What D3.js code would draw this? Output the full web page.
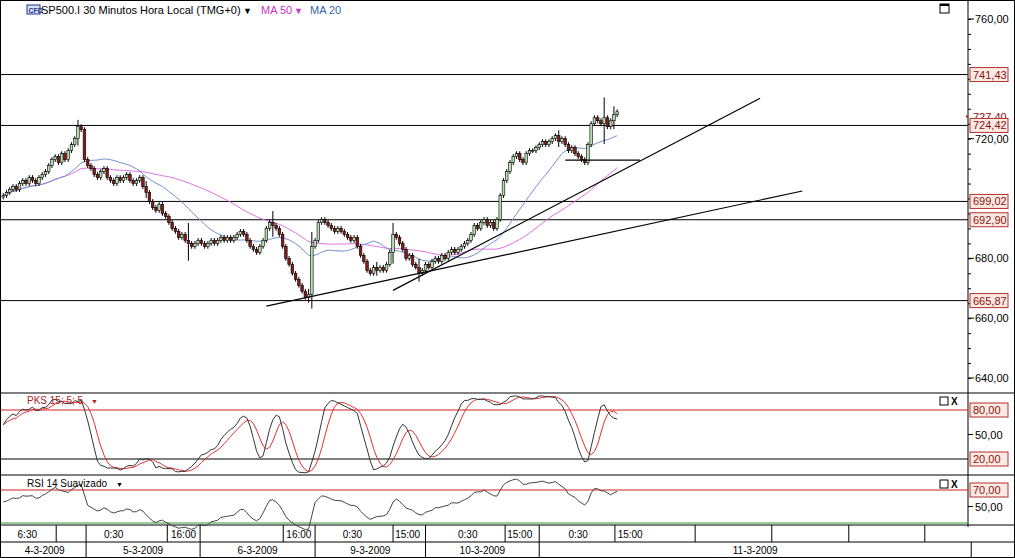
<!DOCTYPE html>
<html><head><meta charset="utf-8">
<script src="https://cdn.jsdelivr.net/npm/d3@7"></script>
<style>body{margin:0;background:#fff}text{font-family:"Liberation Sans",Arial,sans-serif}</style>
</head><body><svg id="c" width="1015" height="558"></svg>
<script>
// 30 min closes, SP500.I CFD
const closes = [
701,702,703,704,703,705,706,705,707,706,
705,707,708,709,711,713,714,712,715,713,
716,718,720,724,723,713,711,710,708,707,
709,710,707,706,705,707,706,707,708,706,
705,706,707,704,702,699,697,696,698,695,
694,692,690,689,687,688,686,685,684,685,
686,685,684,685,686,685,686,687,686,687,
686,687,688,689,688,686,684,683,682,684,
686,690,692,691,690,688,684,680,678,675,
673,671,669,667,668,684,686,692,693,692,
691,690,689,690,689,688,687,686,687,684,
681,679,676,675,677,676,677,676,678,682,
688,687,685,683,680,681,678,677,675,676,
678,677,679,680,679,681,680,682,683,682,
683,684,685,686,688,691,690,692,693,691,
692,690,693,701,706,709,712,714,715,713,
712,715,716,716,717,718,719,718,719,720,
721,719,720,718,716,717,715,714,713,712,
718,725,727,726,725,727,724,726,728,729];
const wicks = {23:1.5, 44:1, 57:5, 83:3, 94:1, 95:4, 115:1, 120:3, 128:2, 171:1, 185:6, 188:2};
const levels = [741.43, 724.42, 699.02, 692.90];
const supportLevel = 665.87;
const lastPrice = 727.40;
const priceTicks = [640, 660, 680, 720, 760];
const trendLines = [[81, 664.0, 246, 702.5], [120, 669.3, 233, 733.5], [173, 712.8, 196, 712.8]];
const hourTicks = [{i:7.4,t:"6:30"},{i:34,t:"0:30"},{i:55.5,t:"16:00"},{i:107.5,t:"0:30"},{i:91,t:"16:00"},{i:143,t:"0:30"},{i:124.5,t:"15:00"},{i:159,t:"15:00"},{i:177,t:"0:30"},{i:193,t:"15:00"}];
const hourDividers = [16.3,25.5,50.5,60.6,86.2,96,120,130,154.5,165,188.3,213,236.6,260.3,283.7];
const dates = [{a:0,b:25.5,t:"4-3-2009"},{a:25.5,b:60.6,t:"5-3-2009"},{a:60.6,b:96,t:"6-3-2009"},{a:96,b:130,t:"9-3-2009"},{a:130,b:165,t:"10-3-2009"},{a:165,b:298,t:"11-3-2009"}];

const bars = closes.map((c, i) => {
  const o = i ? closes[i - 1] : c - 0.5;
  const w = (wicks[i] || 0) + 0.8;
  return {i, o, c, h: Math.max(o, c) + w, l: Math.min(o, c) - w};
});
function sma(n) {
  return closes.map((c, i) => d3.mean(closes.slice(Math.max(0, i - n + 1), i + 1)));
}
const ma20 = sma(20), ma50 = sma(50);
// stochastic 15;5;5
const kRaw = bars.map((b, i) => {
  const s = bars.slice(Math.max(0, i - 14), i + 1);
  const hh = d3.max(s, d => d.h), ll = d3.min(s, d => d.l);
  return hh === ll ? 50 : 100 * (b.c - ll) / (hh - ll);
});
const smooth = (a, n) => a.map((v, i) => d3.mean(a.slice(Math.max(0, i - n + 1), i + 1)));
const pk = smooth(kRaw, 5), pd = smooth(pk, 5);
// RSI 14 (Wilder), smoothed
let ag = 1, al = 0.8;
const rsi = closes.map((c, i) => {
  const d = i ? c - closes[i - 1] : 0;
  ag = (ag * 13 + Math.max(d, 0)) / 14;
  al = (al * 13 + Math.max(-d, 0)) / 14;
  return 100 * ag / (ag + al);
});
const rsiS = smooth(rsi, 2);

const svg = d3.select("#c");
const W = 968;
const x = d3.scaleLinear().domain([-1, 297]).range([0, W]);
const y = d3.scaleLinear().domain([640, 760]).range([378, 19]);
const ys = d3.scaleLinear().domain([20, 80]).range([459, 410]);
const yr = d3.scaleLinear().domain([30, 70]).range([523, 490]);

function tag(val, label, scale) {
  const g = svg.append("g");
  g.append("rect").attr("x", 970).attr("y", scale(val) - 7).attr("width", 38).attr("height", 14)
    .attr("fill", "#fdebe3").attr("stroke", "#b03030");
  g.append("text").attr("x", 973).attr("y", scale(val) + 4).attr("font-size", 11).attr("fill", "#8b1010")
    .text(label);
}
const fmt = v => v.toFixed(2).replace(".", ",");

// main panel
svg.append("g").selectAll("line").data(levels.concat([supportLevel])).join("line")
  .attr("x1", 0).attr("x2", W).attr("y1", d => y(d)).attr("y2", d => y(d)).attr("stroke", "#000");
const line = (arr, sc) => d3.line().x((d, i) => x(i)).y(d => sc(d))(arr);
svg.append("path").attr("d", line(ma50, y)).attr("fill", "none").attr("stroke", "#e070e0");
svg.append("path").attr("d", line(ma20, y)).attr("fill", "none").attr("stroke", "#7090d0");
const cg = svg.append("g").selectAll("g").data(bars).join("g");
cg.append("line").attr("x1", d => x(d.i)).attr("x2", d => x(d.i)).attr("y1", d => y(d.h)).attr("y2", d => y(d.l)).attr("stroke", "#000");
cg.append("rect").attr("x", d => x(d.i) - 1.3).attr("width", 2.6)
  .attr("y", d => y(Math.max(d.o, d.c))).attr("height", d => Math.max(1, Math.abs(y(d.o) - y(d.c))))
  .attr("fill", d => d.c >= d.o ? "#b8e0b0" : "#8b1a1a").attr("stroke", "#000").attr("stroke-width", 0.6);
svg.append("g").selectAll("line").data(trendLines).join("line")
  .attr("x1", d => x(d[0])).attr("y1", d => y(d[1])).attr("x2", d => x(d[2])).attr("y2", d => y(d[3]))
  .attr("stroke", "#000").attr("stroke-width", 1.2);

// right axis
svg.append("line").attr("x1", W).attr("x2", W).attr("y1", 0).attr("y2", 527).attr("stroke", "#000");
const axMain = svg.append("g").attr("transform", `translate(${W},0)`)
  .call(d3.axisRight(y).tickValues(d3.range(640, 765, 5)).tickSize(3).tickFormat(""));
axMain.select(".domain").remove();
svg.append("g").selectAll("text").data(priceTicks).join("text")
  .attr("x", 975).attr("y", d => y(d) + 4).attr("font-size", 11).text(d => fmt(d));
svg.append("g").selectAll("line").data(priceTicks).join("line")
  .attr("x1", W).attr("x2", W + 6).attr("y1", d => y(d)).attr("y2", d => y(d)).attr("stroke", "#000");
// last price tag, partly hidden behind the 724,42 tag as in the original
svg.append("defs").append("clipPath").attr("id", "lp").append("rect")
  .attr("x", 965).attr("y", 0).attr("width", 50).attr("height", y(724.42) - 7);
const lp = svg.append("g").attr("clip-path", "url(#lp)");
lp.append("text").attr("x", 973).attr("y", y(lastPrice) + 4).attr("font-size", 11).attr("fill", "#8b1010").text(fmt(lastPrice));
lp.append("circle").attr("cx", 967).attr("cy", y(lastPrice)).attr("r", 1.2).attr("fill", "#b03030");
[...levels, supportLevel].forEach(v => tag(v, fmt(v), y));

// legend
svg.append("rect").attr("x", 27).attr("y", 5).attr("width", 13).attr("height", 9).attr("fill", "#d8e4ff").attr("stroke", "#223388");
svg.append("text").attr("x", 28.5).attr("y", 12.5).attr("font-size", 7).attr("font-weight", "bold").attr("fill", "#223388").text("CFD");
svg.append("text").attr("x", 41).attr("y", 14).attr("font-size", 11).text("SP500.I 30 Minutos Hora Local (TMG+0)");
svg.append("text").attr("x", 243).attr("y", 14).attr("font-size", 9).text("▼");
svg.append("text").attr("x", 261).attr("y", 14).attr("font-size", 11).attr("fill", "#cc33cc").text("MA 50");
svg.append("text").attr("x", 294).attr("y", 14).attr("font-size", 9).attr("fill", "#cc33cc").text("▼");
svg.append("text").attr("x", 310).attr("y", 14).attr("font-size", 11).attr("fill", "#3366aa").text("MA 20");
svg.append("rect").attr("x", 940).attr("y", 4).attr("width", 9).attr("height", 9).attr("fill", "none").attr("stroke", "#000");
svg.append("line").attr("x1", 940).attr("x2", 949).attr("y1", 5).attr("y2", 5).attr("stroke", "#000").attr("stroke-width", 2);

// panel borders
[393, 475, 525, 542].forEach(v => svg.append("line").attr("x1", 0).attr("x2", 1015).attr("y1", v).attr("y2", v).attr("stroke", "#000"));

// stochastic panel
svg.append("line").attr("x1", 0).attr("x2", W).attr("y1", ys(80)).attr("y2", ys(80)).attr("stroke", "#cc2020");
svg.append("line").attr("x1", 0).attr("x2", W).attr("y1", ys(20)).attr("y2", ys(20)).attr("stroke", "#000");
svg.append("path").attr("d", line(pd, ys)).attr("fill", "none").attr("stroke", "#e03030");
svg.append("path").attr("d", line(pk, ys)).attr("fill", "none").attr("stroke", "#333");
svg.append("text").attr("x", 27).attr("y", 404).attr("font-size", 10).attr("fill", "#b02020").text("PKS 15; 5; 5");
svg.append("text").attr("x", 91).attr("y", 404).attr("font-size", 7).attr("fill", "#b02020").text("▼");
tag(80, "80,00", ys); tag(20, "20,00", ys);
svg.append("text").attr("x", 975).attr("y", ys(50) + 4).attr("font-size", 11).text("50,00");
svg.append("line").attr("x1", W).attr("x2", W + 5).attr("y1", ys(50)).attr("y2", ys(50)).attr("stroke", "#000");

// RSI panel
svg.append("line").attr("x1", 0).attr("x2", W).attr("y1", yr(70)).attr("y2", yr(70)).attr("stroke", "#cc2020");
svg.append("line").attr("x1", 0).attr("x2", W).attr("y1", yr(30)).attr("y2", yr(30)).attr("stroke", "#30a030");
svg.append("path").attr("d", line(rsiS, yr)).attr("fill", "none").attr("stroke", "#444");
svg.append("text").attr("x", 27).attr("y", 487).attr("font-size", 10).text("RSI 14 Suavizado");
svg.append("text").attr("x", 116).attr("y", 487).attr("font-size", 7).text("▼");
tag(70, "70,00", yr);
svg.append("text").attr("x", 975).attr("y", yr(50) + 4).attr("font-size", 11).text("50,00");
svg.append("line").attr("x1", W).attr("x2", W + 5).attr("y1", yr(50)).attr("y2", yr(50)).attr("stroke", "#000");
[[940, 397], [940, 480]].forEach(([a, b]) => {
  svg.append("rect").attr("x", a).attr("y", b).attr("width", 8).attr("height", 8).attr("fill", "none").attr("stroke", "#000");
  svg.append("text").attr("x", 951).attr("y", b + 8).attr("font-size", 10).attr("font-weight", "bold").text("X");
});

// time axis
svg.append("g").selectAll("line").data(hourDividers).join("line")
  .attr("x1", d => x(d)).attr("x2", d => x(d)).attr("y1", 525).attr("y2", 542).attr("stroke", "#000");
svg.append("g").selectAll("text").data(hourTicks).join("text")
  .attr("x", d => x(d.i)).attr("y", 538).attr("font-size", 10).attr("text-anchor", "middle").text(d => d.t);
svg.append("g").selectAll("line").data(dates).join("line")
  .attr("x1", d => x(d.b)).attr("x2", d => x(d.b)).attr("y1", 542).attr("y2", 558).attr("stroke", "#000");
svg.append("g").selectAll("text").data(dates).join("text")
  .attr("x", d => x((d.a + d.b) / 2)).attr("y", 554).attr("font-size", 10).attr("text-anchor", "middle").text(d => d.t);
svg.append("rect").attr("x", 0.5).attr("y", 0.5).attr("width", 1014).attr("height", 557).attr("fill", "none").attr("stroke", "#000");
</script></body></html>
